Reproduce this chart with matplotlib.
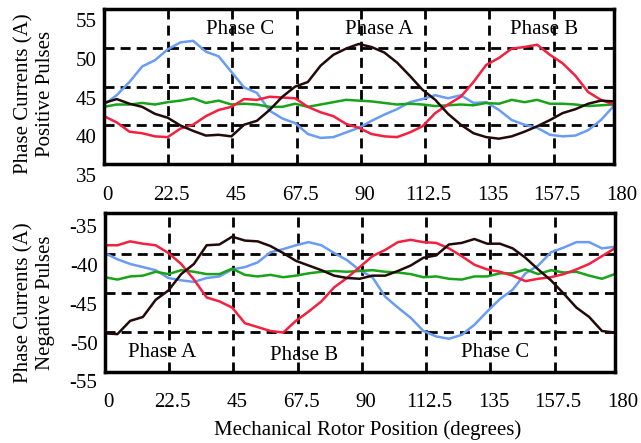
import numpy as np
import matplotlib
matplotlib.use("Agg")
import matplotlib.pyplot as plt

plt.rcParams['font.family'] = ['Liberation Serif', 'DejaVu Serif']

# rotor position samples (degrees)
pos = np.linspace(0, 178.5, 41)

# positive pulses (A)
pos_black = [42.9, 43.4, 42.8, 42.4, 41.5, 41.0, 40.0, 39.3, 38.7, 38.8, 38.6,
             40.1, 40.6, 42.0, 43.7, 45.0, 45.6, 47.7, 49.1, 49.9, 50.5,
             50.1, 49.4, 48.1, 46.4, 44.6, 43.3, 41.5, 40.1, 39.0, 38.5,
             38.3, 38.6, 39.2, 39.9, 40.7, 41.6, 42.1, 42.8, 43.2, 43.1]
pos_red = [41.2, 40.4, 39.2, 39.0, 38.6, 38.5, 39.6, 40.1, 41.2, 42.0, 42.4,
           43.4, 43.3, 43.7, 43.6, 43.5, 42.4, 41.7, 41.2, 40.2, 39.7,
           38.9, 38.6, 38.5, 39.1, 39.9, 41.6, 42.7, 43.7, 45.6, 47.8,
           48.7, 49.9, 50.1, 50.4, 49.1, 48.0, 46.4, 44.3, 43.3, 42.7]
pos_blue = [42.7, 43.9, 45.6, 47.6, 48.4, 49.8, 50.7, 50.9, 49.5, 48.9, 46.9,
            44.9, 44.2, 41.9, 40.9, 40.3, 38.9, 38.4, 38.5, 39.1, 39.7,
            40.6, 41.4, 42.1, 43.0, 43.4, 43.9, 43.5, 43.9, 42.9, 43.0,
            42.0, 40.7, 40.1, 39.7, 38.8, 38.6, 38.7, 39.4, 40.7, 42.5]
pos_green = [42.4, 42.7, 42.7, 42.9, 42.7, 43.0, 43.2, 43.5, 42.9, 43.2, 42.7,
             42.8, 42.7, 42.4, 42.4, 42.8, 42.4, 42.7, 43.0, 43.3, 43.2,
             43.1, 42.9, 42.7, 42.8, 42.7, 42.5, 42.6, 42.7, 42.6, 42.9,
             42.8, 43.3, 43.0, 43.3, 42.8, 42.8, 42.7, 42.5, 42.6, 42.7]

# negative pulses (A)
neg_black = [-50.2, -50.3, -48.6, -48.1, -45.9, -44.7, -42.6, -41.3, -38.9, -38.8, -37.8,
             -38.3, -38.4, -39.0, -39.9, -40.9, -41.5, -42.1, -42.8, -43.1, -43.2,
             -42.8, -42.8, -42.2, -41.5, -40.5, -40.2, -38.8, -38.6, -38.1, -38.7,
             -38.7, -39.3, -40.5, -42.0, -43.4, -45.1, -46.9, -48.1, -49.9, -50.1]
neg_red = [-38.9, -38.9, -38.4, -38.7, -38.9, -39.9, -41.3, -43.3, -45.6, -46.1, -46.9,
           -48.9, -49.4, -49.9, -50.1, -48.6, -47.4, -46.1, -44.3, -43.1, -41.7,
           -40.3, -39.5, -38.5, -38.2, -38.5, -38.6, -39.3, -40.3, -41.4, -42.0,
           -42.3, -42.8, -43.5, -43.2, -43.0, -42.6, -42.0, -41.3, -40.3, -39.3]
neg_blue = [-39.9, -40.7, -41.3, -41.7, -42.1, -43.1, -43.4, -43.6, -43.1, -42.9, -42.0,
            -41.7, -41.1, -39.8, -39.4, -38.9, -38.5, -38.9, -39.9, -40.8, -42.1,
            -43.0, -45.5, -46.9, -48.2, -49.9, -50.6, -50.9, -50.4, -49.1, -47.4,
            -45.8, -44.6, -42.5, -41.5, -39.8, -39.2, -38.5, -38.5, -39.3, -39.1]
neg_green = [-43.0, -43.3, -42.9, -42.8, -42.3, -42.6, -42.1, -42.3, -42.6, -42.6, -41.9,
             -42.7, -42.9, -42.7, -43.0, -42.8, -42.5, -42.3, -42.2, -42.3, -42.2,
             -42.1, -42.3, -42.4, -42.6, -43.0, -42.9, -43.2, -43.3, -42.9, -42.9,
             -42.5, -42.5, -42.0, -42.6, -42.1, -42.4, -42.3, -42.8, -43.2, -42.6]

x_ticks = [0, 22.5, 45, 67.5, 90, 112.5, 135, 157.5, 180]
x_labels = ['0', '22.5', '45', '67.5', '90', '112.5', '135', '157.5', '180']
top_yticks = [55, 50, 45, 40, 35]
bot_yticks = [-35, -40, -45, -50, -55]

top_notes = [('Phase C', 47.5, 52.4), ('Phase A', 96.3, 52.4), ('Phase B', 154.1, 52.4)]
bot_notes = [('Phase A', 20.2, -52.7), ('Phase B', 69.8, -53.0), ('Phase C', 136.7, -52.7)]

colors = {'black': '#220a0a', 'red': '#f5203f', 'blue': '#6a9cf5', 'green': '#18a318'}
fs = 15

fig = plt.figure(figsize=(6.41, 4.43), dpi=100)
ax1 = fig.add_axes([0.1622, 0.6291, 0.7956, 0.3506])
ax2 = fig.add_axes([0.1633, 0.1596, 0.7961, 0.3589])


def style(ax, ylim, yticks, ylab_shift, notes, xlab_y):
    ax.set_xlim(0, 178.6)
    ax.set_ylim(*ylim)
    ax.set_xticks(x_ticks[1:-1])
    ax.set_yticks(yticks[1:-1])
    ax.tick_params(length=0, labelbottom=False, labelleft=False)
    ax.grid(True, color='black', linewidth=2, linestyle=(0, (3.6, 2.2)))
    for s in ax.spines.values():
        s.set_linewidth(2.5)
    # tick labels sit a bit below/right of the grid lines in the original
    for t, lab in zip(x_ticks, x_labels):
        ax.text(t + 1.2, xlab_y, lab, transform=ax.get_xaxis_transform(),
                ha='center', va='center', fontsize=fs)
    for v in yticks:
        ax.text(-0.014, v - ylab_shift, str(v), transform=ax.get_yaxis_transform(),
                ha='right', va='center', fontsize=fs)
    for txt, xx, yy in notes:
        ax.text(xx, yy, txt, ha='center', va='center', fontsize=fs)


ax1.plot(pos, pos_blue, color=colors['blue'], lw=1.8)
ax1.plot(pos, pos_green, color=colors['green'], lw=1.8)
ax1.plot(pos, pos_red, color=colors['red'], lw=1.8)
ax1.plot(pos, pos_black, color=colors['black'], lw=1.8)
style(ax1, (35, 55), top_yticks, 1.73, top_notes, -0.2)

ax2.plot(pos, neg_blue, color=colors['blue'], lw=1.8)
ax2.plot(pos, neg_green, color=colors['green'], lw=1.8)
ax2.plot(pos, neg_red, color=colors['red'], lw=1.8)
ax2.plot(pos, neg_black, color=colors['black'], lw=1.8)
style(ax2, (-55.2, -34.8), bot_yticks, 1.7, bot_notes, -0.193)

fig.text(0.054, 0.788, 'Phase Currents (A)\nPositive Pulses', rotation=90,
         ha='center', va='center', multialignment='center', fontsize=fs)
fig.text(0.054, 0.316, 'Phase Currents (A)\nNegative Pulses', rotation=90,
         ha='center', va='center', multialignment='center', fontsize=fs)
fig.text(0.574, 0.029, 'Mechanical Rotor Position (degrees)',
         ha='center', va='center', fontsize=fs)

fig.savefig('out.png', dpi=100)
